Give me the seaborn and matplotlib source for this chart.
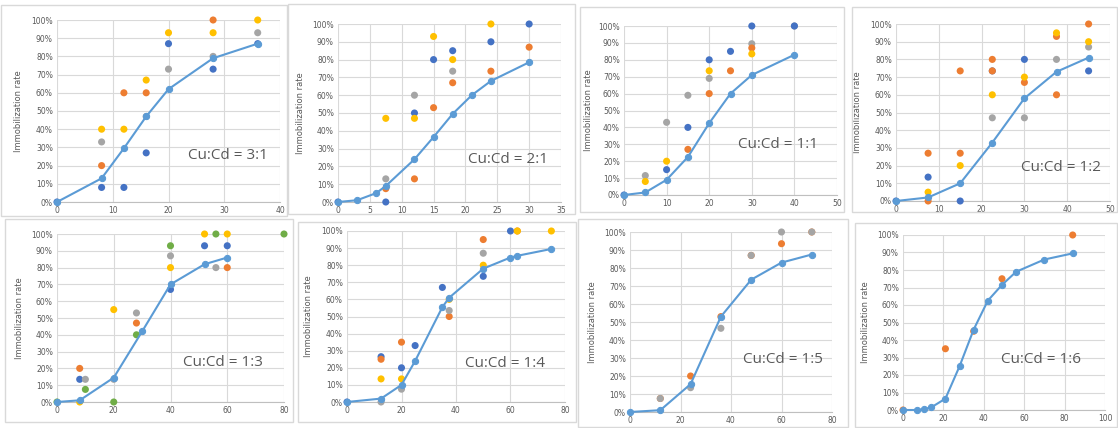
import matplotlib
matplotlib.use("Agg")
import matplotlib.pyplot as plt
import seaborn as sns
from matplotlib.patches import Rectangle
from matplotlib.ticker import PercentFormatter

# ---- data (x = dose, y = immobilization %) ----
# Cu:Cd = 3:1
r31_x = [0, 8, 12, 16, 20, 28, 36]
r31_mean = [0, 13, 29.5, 47, 62, 79, 87]
r31_blue = [(0, 0), (8, 8), (12, 8), (16, 27), (20, 87), (28, 73), (36, 87)]
r31_orange = [(8, 20), (12, 60), (16, 60), (28, 100)]
r31_gray = [(8, 33), (16, 47), (20, 73), (28, 80), (36, 93)]
r31_yellow = [(8, 40), (12, 40), (16, 67), (20, 93), (28, 93), (36, 100)]

# Cu:Cd = 2:1
r21_x = [0, 3, 6, 7.5, 12, 15, 18, 21, 24, 30]
r21_mean = [0, 1, 5, 9, 24, 36.5, 49.5, 60, 68, 78.5]
r21_blue = [(0, 0), (7.5, 0), (12, 50), (15, 80), (18, 85), (24, 90), (30, 100)]
r21_orange = [(7.5, 7.5), (12, 13), (15, 53), (18, 67), (24, 73.5), (30, 87)]
r21_gray = [(7.5, 13), (12, 60), (18, 73.5)]
r21_yellow = [(7.5, 47), (12, 47), (15, 93), (18, 80), (24, 100)]

# Cu:Cd = 1:1
r11_x = [0, 5, 10, 15, 20, 25, 30, 40]
r11_mean = [0, 1.5, 9, 22.5, 42.5, 60, 71, 83]
r11_blue = [(0, 0), (10, 15), (15, 40), (20, 80), (25, 85), (30, 100), (40, 100)]
r11_orange = [(15, 27), (20, 60), (25, 73.5), (30, 87)]
r11_gray = [(5, 11.5), (10, 43), (15, 59), (20, 69), (30, 89.5), (40, 100)]
r11_yellow = [(5, 8), (10, 20), (20, 73.5), (30, 83.5)]

# Cu:Cd = 1:2
r12_x = [0, 7.5, 15, 22.5, 30, 37.5, 45]
r12_mean = [0, 2, 10, 33, 58, 73, 81]
r12_blue = [(0, 0), (7.5, 13.5), (15, 0), (22.5, 73.5), (30, 80), (45, 73.5)]
r12_orange = [(7.5, 27), (7.5, 0), (15, 73.5), (15, 27), (22.5, 80), (22.5, 73.5),
              (30, 67), (37.5, 93), (37.5, 60), (45, 100)]
r12_gray = [(22.5, 47), (30, 47), (37.5, 80), (45, 87)]
r12_yellow = [(7.5, 5), (15, 20), (22.5, 60), (30, 70), (37.5, 95), (45, 90)]

# Cu:Cd = 1:3
r13_x = [0, 8, 20, 30, 40, 52, 60]
r13_mean = [0, 1, 14.5, 42, 70, 82, 86]
r13_blue = [(8, 13.5), (40, 67), (52, 93), (60, 93)]
r13_orange = [(8, 20), (28, 47), (60, 80)]
r13_gray = [(10, 13.5), (20, 13.5), (28, 53), (40, 87), (56, 80)]
r13_yellow = [(8, 0), (20, 55), (40, 80), (52, 100), (60, 100)]
r13_green = [(0, 0), (10, 7.5), (20, 0), (28, 40), (40, 93), (56, 100), (80, 100)]

# Cu:Cd = 1:4
r14_x = [0, 12.5, 20, 25, 35, 37.5, 50, 60, 62.5, 75]
r14_mean = [0, 2, 10, 24, 55.5, 61, 78, 84.5, 85.5, 89.5]
r14_blue = [(0, 0), (12.5, 26.5), (20, 20), (25, 33), (35, 67), (50, 73.5), (60, 100)]
r14_orange = [(12.5, 25), (20, 35), (37.5, 50), (50, 95), (62.5, 100)]
r14_gray = [(12.5, 0), (20, 7.5), (37.5, 53.5), (50, 87)]
r14_yellow = [(12.5, 13.5), (20, 13.5), (37.5, 60), (50, 80), (62.5, 100), (75, 100)]

# Cu:Cd = 1:5
r15_x = [0, 12, 24, 36, 48, 60, 72]
r15_mean = [0, 1, 15.5, 53, 73.5, 83, 87.5]
r15_orange = [(12, 7.5), (24, 20), (36, 53), (48, 87), (60, 93.5), (72, 100)]
r15_gray = [(12, 7.5), (24, 13.5), (36, 46.5), (48, 87), (60, 100), (72, 100)]

# Cu:Cd = 1:6
r16_x = [0, 7, 10.5, 14, 21, 28, 35, 42, 49, 56, 70, 84]
r16_mean = [0, 0, 0.5, 1.5, 6.5, 25, 46, 62.5, 71.5, 79, 86, 89.5]
r16_orange = [(0, 0), (21, 35), (35, 45), (49, 75), (84, 100)]

LINE = "#5B9BD5"
BLUE, ORANGE, GRAY, YELLOW, GREEN = "#4472C4", "#ED7D31", "#A5A5A5", "#FFC000", "#70AD47"

W, H = 1118, 428

def rect(l, t, r, b):
    return [l / W, 1 - b / H, (r - l) / W, (b - t) / H]

panels = [
    ("Cu:Cd = 3:1", r31_x, r31_mean, [(r31_blue, BLUE), (r31_orange, ORANGE), (r31_gray, GRAY), (r31_yellow, YELLOW)],
     (57, 20, 280, 202), 40, 10, (0.587, 0.258), 34),
    ("Cu:Cd = 2:1", r21_x, r21_mean, [(r21_blue, BLUE), (r21_orange, ORANGE), (r21_gray, GRAY), (r21_yellow, YELLOW)],
     (338, 24, 561, 202), 35, 5, (0.583, 0.236), 33),
    ("Cu:Cd = 1:1", r11_x, r11_mean, [(r11_gray, GRAY), (r11_orange, ORANGE), (r11_yellow, YELLOW), (r11_blue, BLUE)],
     (624, 26, 837, 195), 50, 10, (0.535, 0.30), 31),
    ("Cu:Cd = 1:2", r12_x, r12_mean, [(r12_blue, BLUE), (r12_orange, ORANGE), (r12_gray, GRAY), (r12_yellow, YELLOW)],
     (896, 24, 1110, 201), 50, 10, (0.584, 0.19), 34),
    ("Cu:Cd = 1:3", r13_x, r13_mean, [(r13_blue, BLUE), (r13_orange, ORANGE), (r13_gray, GRAY), (r13_yellow, YELLOW), (r13_green, GREEN)],
     (57, 234, 284, 402), 80, 20, (0.555, 0.238), 33),
    ("Cu:Cd = 1:4", r14_x, r14_mean, [(r14_blue, BLUE), (r14_orange, ORANGE), (r14_gray, GRAY), (r14_yellow, YELLOW)],
     (347, 231, 565, 402), 80, 20, (0.54, 0.228), 34),
    ("Cu:Cd = 1:5", r15_x, r15_mean, [(r15_orange, ORANGE), (r15_gray, GRAY)],
     (630, 232, 832, 412), 80, 20, (0.56, 0.294), 33),
    ("Cu:Cd = 1:6", r16_x, r16_mean, [(r16_orange, ORANGE)],
     (903, 235, 1105, 410), 100, 20, (0.485, 0.286), 33),
]

frames = [(1, 5, 287, 216), (288, 4, 575, 214), (580, 7, 844, 212), (852, 7, 1117, 212),
          (5, 219, 293, 422), (298, 222, 576, 422), (578, 219, 848, 427), (855, 223, 1117, 427)]

sns.set_style("white")
fig = plt.figure(figsize=(W / 100, H / 100), dpi=100)

for f in frames:
    fig.patches.append(Rectangle((f[0] / W, 1 - f[3] / H), (f[2] - f[0]) / W, (f[3] - f[1]) / H,
                                 transform=fig.transFigure, fill=False, edgecolor="#D9D9D9", linewidth=1))

for title, xs, mean, series, box, xmax, xstep, tpos, lab_off in panels:
    ax = fig.add_axes(rect(*box))
    for pts, col in series:
        sns.scatterplot(x=[p[0] for p in pts], y=[p[1] for p in pts], ax=ax, color=col,
                        s=26, edgecolor="none", clip_on=False, zorder=3)
    sns.lineplot(x=xs, y=mean, ax=ax, color=LINE, linewidth=1.5, marker="o", markersize=4.5,
                 markeredgecolor=LINE, clip_on=False, zorder=4, sort=False)
    ax.set_xlim(0, xmax)
    ax.set_ylim(0, 100)
    ax.set_xticks(range(0, xmax + 1, xstep))
    ax.set_yticks(range(0, 101, 10))
    ax.yaxis.set_major_formatter(PercentFormatter(decimals=0))
    ax.grid(True, color="#D9D9D9", linewidth=0.8)
    ax.set_axisbelow(True)
    for s in ["top", "right", "left"]:
        ax.spines[s].set_visible(False)
    ax.spines["bottom"].set_color("#BFBFBF")
    ax.tick_params(length=0, labelsize=5.5, labelcolor="#595959", pad=3)
    ax.set_ylabel("Immobilization rate", fontsize=6, color="#595959")
    ax.yaxis.set_label_coords(-lab_off / (box[2] - box[0]), 0.5)
    ax.set_xlabel("")
    ax.text(tpos[0], tpos[1], title, transform=ax.transAxes, fontsize=11, color="#595959",
            va="center", ha="left", family=["Open Sans", "DejaVu Sans"])

fig.savefig("out.png", dpi=100)
